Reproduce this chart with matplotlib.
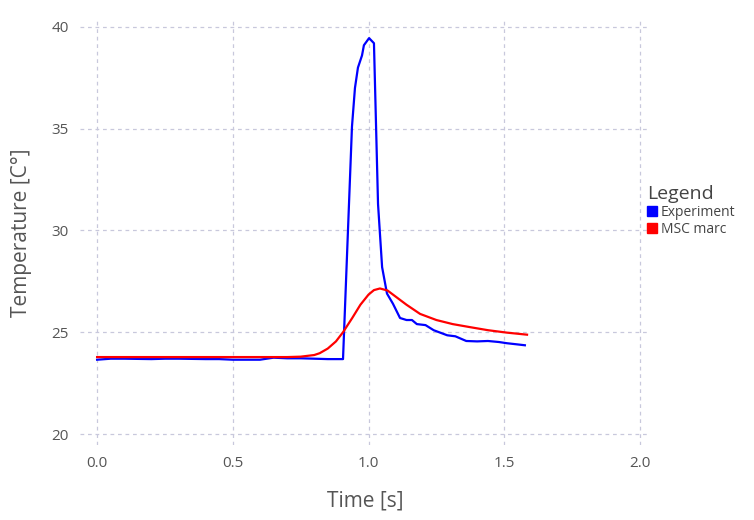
import matplotlib
matplotlib.use("Agg")
import matplotlib.pyplot as plt
from matplotlib.patches import Patch

exp_t = [0.0, 0.05, 0.1, 0.2, 0.25, 0.3, 0.4, 0.45, 0.5, 0.55, 0.6, 0.65, 0.7, 0.75, 0.8, 0.85, 0.906,
         0.939, 0.950, 0.961, 0.976, 0.983, 1.002, 1.02, 1.035, 1.05, 1.068, 1.09, 1.116, 1.14, 1.16,
         1.178, 1.21, 1.24, 1.29, 1.32, 1.36, 1.40, 1.44, 1.48, 1.51, 1.55, 1.576]
exp_T = [23.65, 23.7, 23.7, 23.68, 23.7, 23.7, 23.68, 23.68, 23.65, 23.65, 23.65, 23.75, 23.72, 23.72, 23.7, 23.68, 23.68,
         35.1, 37.0, 38.0, 38.6, 39.1, 39.45, 39.2, 31.3, 28.2, 26.9, 26.4, 25.7, 25.6, 25.6,
         25.4, 25.35, 25.1, 24.85, 24.8, 24.57, 24.55, 24.57, 24.52, 24.46, 24.4, 24.36]
msc_t = [0.0, 0.2, 0.4, 0.6, 0.7, 0.75, 0.8, 0.82, 0.85, 0.88, 0.906, 0.94, 0.97, 1.0, 1.02, 1.042, 1.07,
         1.1, 1.14, 1.19, 1.25, 1.31, 1.374, 1.44, 1.51, 1.584]
msc_T = [23.78, 23.78, 23.78, 23.78, 23.78, 23.8, 23.88, 23.97, 24.2, 24.55, 25.0, 25.7, 26.35, 26.85, 27.07, 27.15, 27.05,
         26.75, 26.35, 25.9, 25.6, 25.4, 25.25, 25.1, 24.98, 24.88]

plt.rcParams['font.family'] = ['Open Sans', 'DejaVu Sans']
fig = plt.figure(figsize=(7.54, 5.2), dpi=100)
ax = fig.add_axes([80/754, 1-445/520, 570/754, 425/520])
ax.plot(exp_t, exp_T, color='#0000ff', lw=1.6)
ax.plot(msc_t, msc_T, color='#ff0000', lw=1.6)
ax.set_xlim(-0.063, 2.037)
ax.set_ylim(19.46, 40.34)
ax.set_xticks([0, 0.5, 1, 1.5, 2])
ax.set_xticklabels(['0.0', '0.5', '1.0', '1.5', '2.0'])
ax.set_yticks([20, 25, 30, 35, 40])
ax.grid(True, color='#c8c8dc', ls=(0, (3, 3)), lw=0.9)
for s in ax.spines.values():
    s.set_visible(False)
ax.tick_params(length=0, colors='#555555', labelsize=11, pad=8)
ax.set_xlabel('Time [s]', fontsize=15, color='#555555', labelpad=14)
ax.set_ylabel('Temperature [C°]', fontsize=15, color='#555555', labelpad=14)
handles = [Patch(color='#0000ff'), Patch(color='#ff0000')]
leg = fig.legend(handles, ['Experiment', 'MSC marc'], loc='upper left', bbox_to_anchor=(644/754, 1-182/520),
                 frameon=False, title='Legend', title_fontsize=14, fontsize=10,
                 handlelength=0.7, handleheight=0.7, handletextpad=0.3, labelspacing=0.15,
                 borderpad=0.2, borderaxespad=0, alignment='left')
leg.get_title().set_color('#444444')
for t in leg.get_texts():
    t.set_color('#444444')
fig.savefig('out.png', dpi=100)
